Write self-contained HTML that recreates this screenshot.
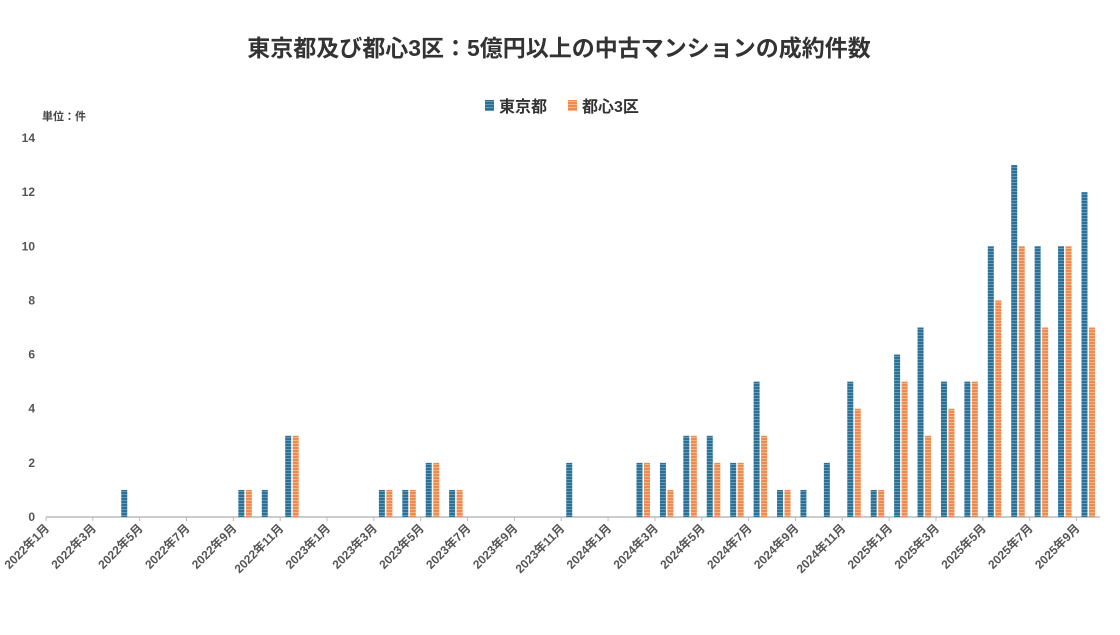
<!DOCTYPE html>
<html><head><meta charset="utf-8"><style>
body{margin:0;background:#fff;}
svg text{font-family:"Liberation Sans","Noto Sans CJK JP",sans-serif;}
</style></head><body>
<svg width="1120" height="630" xmlns="http://www.w3.org/2000/svg">
<defs>
<pattern id="pb" width="4" height="3" patternUnits="userSpaceOnUse"><rect width="4" height="3" fill="#2e6f92"/><rect y="2" width="4" height="1" fill="#5b9bbd"/></pattern>
<pattern id="po" width="4" height="3" patternUnits="userSpaceOnUse"><rect width="4" height="3" fill="#ef8a4f"/><rect y="2" width="4" height="1" fill="#f6b489"/></pattern>
</defs>
<text x="559" y="56" text-anchor="middle" font-size="23" font-weight="bold" fill="#333">東京都及び都心3区：5億円以上の中古マンションの成約件数</text>
<rect x="485" y="100" width="9" height="11" fill="url(#pb)"/>
<text x="499" y="112" font-size="16" font-weight="bold" fill="#333">東京都</text>
<rect x="568" y="100" width="9" height="11" fill="url(#po)"/>
<text x="582" y="112" font-size="16" font-weight="bold" fill="#333">都心3区</text>
<text x="42" y="120" font-size="11" font-weight="bold" fill="#444">単位：件</text>
<g id="y" font-size="12" font-weight="bold" fill="#555" text-anchor="end"></g>
<line x1="46" y1="517" x2="1100" y2="517" stroke="#bbb" stroke-width="1.5"/>
<g id="bars"></g>
<g id="ticks"></g>
</svg>
<script>
const ns="http://www.w3.org/2000/svg";
function el(t,a,p,txt){const e=document.createElementNS(ns,t);for(const k in a)e.setAttribute(k,a[k]);if(txt!==undefined)e.textContent=txt;document.getElementById(p).appendChild(e);}
for(let v=0;v<=14;v+=2){el("text",{x:35,y:517-v*27.07+4},"y",String(v));}
const W=23.42,X0=46;
const d={3:[1,0],8:[1,1],9:[1,0],10:[3,3],14:[1,1],15:[1,1],16:[2,2],17:[1,1],22:[2,0],25:[2,2],26:[2,1],27:[3,3],28:[3,2],29:[2,2],30:[5,3],31:[1,1],32:[1,0],33:[2,0],34:[5,4],35:[1,1],36:[6,5],37:[7,3],38:[5,4],39:[5,5],40:[10,8],41:[13,10],42:[10,7],43:[10,10],44:[12,7]};
for(const i in d){const s=X0+i*W;const [a,b]=d[i];
 if(a)el("rect",{x:s+5,y:517-a*27.07,width:6,height:a*27.07,fill:"url(#pb)"},"bars");
 if(b)el("rect",{x:s+12.5,y:517-b*27.07,width:6,height:b*27.07,fill:"url(#po)"},"bars");}
for(let i=0;i<=45;i+=2){const x=X0+i*W;el("line",{x1:x,y1:517,x2:x,y2:521,stroke:"#bbb"},"ticks");
 if(i<45){const y=2022+Math.floor(i/12),m=i%12+1;
 el("text",{x:x+4,y:529,"font-size":12,"font-weight":"bold",fill:"#555","text-anchor":"end",transform:`rotate(-45 ${x+4} 529)`},"ticks",`${y}年${m}月`);}}
</script>
</body></html>
